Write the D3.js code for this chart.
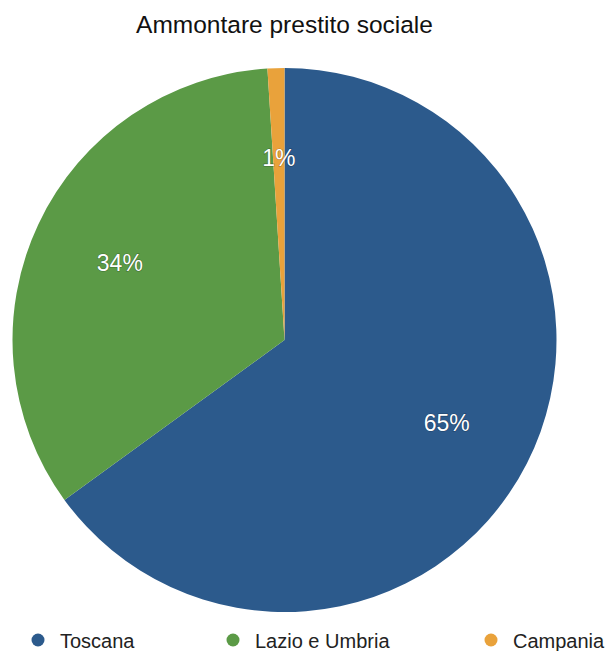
<!DOCTYPE html>
<html><head><meta charset="utf-8">
<script src="https://cdn.jsdelivr.net/npm/d3@7"></script>
<style>body{margin:0;background:#fff;}svg{display:block;font-family:"Liberation Sans",Arial,Helvetica,sans-serif;}</style>
</head><body><svg id="c" width="608" height="651"></svg>
<script>
const categories = ["Toscana", "Lazio e Umbria", "Campania"];
const values = [65, 34, 1];
const labels = ["65%", "34%", "1%"];
const colors = ["#2c5a8c", "#5b9a46", "#e9a23b"];
const title = "Ammontare prestito sociale";

const svg = d3.select("#c");
const cx = 284.5, cy = 340, R = 272;
const data = categories.map((c, i) => ({c, v: values[i], l: labels[i], col: colors[i]}));
const pie = d3.pie().value(d => d.v).sort(null);
const arcs = pie(data);
const arc = d3.arc().innerRadius(0).outerRadius(R);
const labelArc = d3.arc().innerRadius(182).outerRadius(182);

svg.append("text").attr("x", cx).attr("y", 33).attr("text-anchor", "middle")
  .attr("font-size", 24.5).attr("fill", "#111").text(title);

const g = svg.append("g").attr("transform", `translate(${cx},${cy})`);
g.selectAll("path").data(arcs).join("path").attr("d", arc).attr("fill", d => d.data.col);

g.selectAll("text.lbl").data(arcs).join("text").attr("class", "lbl")
  .attr("transform", d => `translate(${labelArc.centroid(d)})`)
  .attr("text-anchor", "middle").attr("dy", "0.35em")
  .attr("font-size", 23).attr("fill", "#fff")
  .style("paint-order", "stroke").attr("stroke", "rgba(0,0,0,0.3)").attr("stroke-width", 1.2)
  .text(d => d.data.l);

const legendX = [38, 233, 491];
const lg = svg.append("g");
data.forEach((d, i) => {
  lg.append("circle").attr("cx", legendX[i]).attr("cy", 640).attr("r", 6.5).attr("fill", d.col);
  lg.append("text").attr("x", legendX[i] + 22).attr("y", 648).attr("font-size", 20).attr("fill", "#222").text(d.c);
});
</script></body></html>
